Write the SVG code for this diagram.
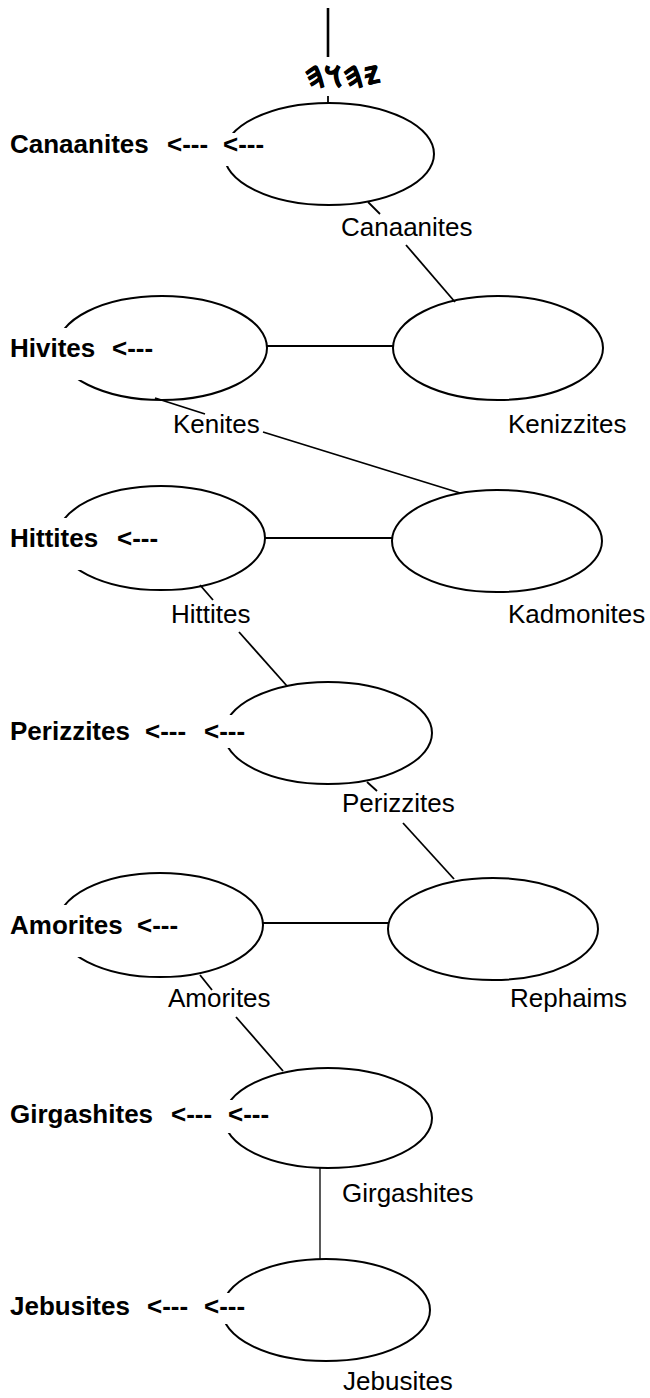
<svg xmlns="http://www.w3.org/2000/svg" width="650" height="1398" viewBox="0 0 650 1398">
  <style>
    .node { fill: none; stroke: #000; stroke-width: 2; }
    .link { stroke: #000; stroke-width: 1.8; fill: none; }
    .name { font-family: "Liberation Sans", Arial, sans-serif; font-size: 26px; font-weight: bold; fill: #000; }
    .arrow { font-family: "Liberation Sans", Arial, sans-serif; font-size: 26px; font-weight: bold; fill: #000; }
    .label { font-family: "Liberation Sans", Arial, sans-serif; font-size: 26px; fill: #000; }
    .glyph { font-family: "Noto Sans Phoenician", "DejaVu Sans", "Noto Sans", sans-serif; font-size: 29px; font-weight: bold; fill: #000; stroke: #000; stroke-width: 0.6; }
    .mask { fill: #fff; stroke: none; }
  </style>
  <rect width="650" height="1398" fill="#fff"/>

  <!-- connectors -->
  <g id="connectors">
    <line class="link" x1="328" y1="8" x2="328" y2="57" style="stroke-width:2.6"/>
    <line class="link" x1="328" y1="96" x2="328" y2="103"/>
    <polyline class="link" points="368,202 380,214"/>
    <polyline class="link" points="406,245 455,302"/>
    <line class="link" x1="267" y1="346" x2="393" y2="346"/>
    <polyline class="link" points="155,398 205,414"/>
    <polyline class="link" points="263,432 460,493"/>
    <line class="link" x1="265" y1="538" x2="392" y2="538"/>
    <polyline class="link" points="200,585 213,600"/>
    <polyline class="link" points="239,632 287,686"/>
    <polyline class="link" points="367,782 377,791"/>
    <polyline class="link" points="403,823 454,879"/>
    <line class="link" x1="263" y1="923" x2="388" y2="923"/>
    <polyline class="link" points="200,975 212,990"/>
    <polyline class="link" points="236,1017 283,1071"/>
    <line class="link" x1="320" y1="1168" x2="320" y2="1259" style="stroke-width:1.3"/>
  </g>

  <!-- heading glyph -->
  <g id="title">
    <text class="glyph" x="343" y="87" text-anchor="middle">𐤉𐤄𐤅𐤄</text>
  </g>

  <!-- Canaanites -->
  <g id="canaanites">
    <ellipse class="node" cx="329" cy="154" rx="105" ry="51"/>
    <rect class="mask" x="216" y="133" width="50" height="33"/>
    <text class="name" x="10" y="153">Canaanites</text>
    <text class="arrow" x="167" y="153">&lt;---</text>
    <text class="arrow" x="223" y="153">&lt;---</text>
    <text class="label" x="341" y="236">Canaanites</text>
  </g>

  <!-- Hivites -->
  <g id="hivites">
    <ellipse class="node" cx="162" cy="348" rx="105" ry="52"/>
    <rect class="mask" x="8" y="328" width="94" height="52"/>
    <text class="name" x="10" y="357">Hivites</text>
    <text class="arrow" x="112" y="357">&lt;---</text>
  </g>

  <!-- Kenites -->
  <g id="kenites">
    <text class="label" x="173" y="433">Kenites</text>
  </g>

  <!-- Kenizzites -->
  <g id="kenizzites">
    <ellipse class="node" cx="498" cy="348" rx="105" ry="52"/>
    <text class="label" x="508" y="433">Kenizzites</text>
  </g>

  <!-- Hittites -->
  <g id="hittites">
    <ellipse class="node" cx="161" cy="538" rx="104" ry="52"/>
    <rect class="mask" x="8" y="518" width="94" height="52"/>
    <text class="name" x="10" y="547">Hittites</text>
    <text class="arrow" x="117" y="547">&lt;---</text>
    <text class="label" x="171" y="623">Hittites</text>
  </g>

  <!-- Kadmonites -->
  <g id="kadmonites">
    <ellipse class="node" cx="497" cy="541" rx="105" ry="51"/>
    <text class="label" x="508" y="623">Kadmonites</text>
  </g>

  <!-- Perizzites -->
  <g id="perizzites">
    <ellipse class="node" cx="328" cy="733" rx="104" ry="51"/>
    <rect class="mask" x="198" y="715" width="50" height="33"/>
    <text class="name" x="10" y="740">Perizzites</text>
    <text class="arrow" x="145" y="740">&lt;---</text>
    <text class="arrow" x="204" y="740">&lt;---</text>
    <text class="label" x="342" y="812">Perizzites</text>
  </g>

  <!-- Rephaims -->
  <g id="rephaims">
    <ellipse class="node" cx="493" cy="929" rx="105" ry="51"/>
    <text class="label" x="510" y="1007">Rephaims</text>
  </g>

  <!-- Amorites -->
  <g id="amorites">
    <ellipse class="node" cx="160" cy="925" rx="103" ry="52"/>
    <rect class="mask" x="8" y="905" width="94" height="52"/>
    <text class="name" x="10" y="934">Amorites</text>
    <text class="arrow" x="137" y="934">&lt;---</text>
    <text class="label" x="168" y="1007">Amorites</text>
  </g>

  <!-- Girgashites -->
  <g id="girgashites">
    <ellipse class="node" cx="328" cy="1118" rx="104" ry="50"/>
    <rect class="mask" x="222" y="1100" width="50" height="33"/>
    <text class="name" x="10" y="1123">Girgashites</text>
    <text class="arrow" x="171" y="1123">&lt;---</text>
    <text class="arrow" x="228" y="1123">&lt;---</text>
    <text class="label" x="342" y="1202">Girgashites</text>
  </g>

  <!-- Jebusites -->
  <g id="jebusites">
    <ellipse class="node" cx="326" cy="1310" rx="104" ry="51"/>
    <rect class="mask" x="198" y="1293" width="50" height="31"/>
    <text class="name" x="10" y="1315">Jebusites</text>
    <text class="arrow" x="147" y="1315">&lt;---</text>
    <text class="arrow" x="204" y="1315">&lt;---</text>
    <text class="label" x="343" y="1390">Jebusites</text>
  </g>
</svg>
